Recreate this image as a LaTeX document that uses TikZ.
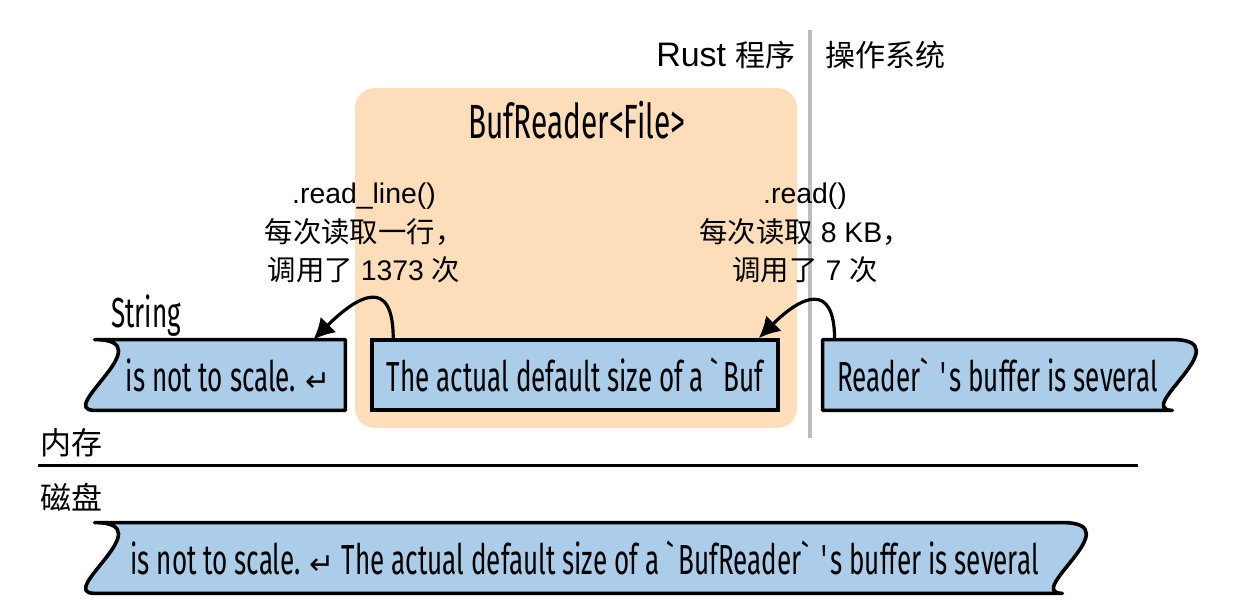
\documentclass[tikz,border=0pt]{standalone}
\usepackage{fontspec}
\setmainfont{Fira Sans}[FakeStretch=0.62]
\newfontfamily\cjk{Noto Sans CJK SC}
\newfontfamily\notef{Liberation Sans}
\newfontfamily\symf{DejaVu Sans}
\newcommand{\zh}[1]{{\cjk #1}}
\usetikzlibrary{arrows.meta,backgrounds}

\definecolor{bufpeach}{RGB}{253,221,186}
\definecolor{tapeblue}{RGB}{171,205,233}
\definecolor{divgray}{RGB}{190,190,190}

\tikzset{
    tape/.style={fill=tapeblue, draw=black, line width=1.8pt, line join=round},
    tapenode/.style={minimum height=35pt, inner sep=0pt, font=\fontsize{21}{25}\selectfont},
    fetch/.style={-{Latex[length=10.5pt,width=11pt]}, line width=1.6pt},
    callnote/.style={align=center, inner sep=0pt, font=\notef\fontsize{14.2}{19.2}\selectfont}
}

\begin{document}
\begin{tikzpicture}[x=0.5pt, y=0.5pt]
    \useasboundingbox (0,0) rectangle (1258,614);

    % Rust program side
    \begin{scope}[on background layer]
        \fill[bufpeach, rounded corners=10pt] (355,186) rectangle (797,526);
    \end{scope}
    \draw[divgray, line width=1.6pt] (810,584) -- (810,176);
    \node (rust) [anchor=east, inner sep=0pt, font=\notef\fontsize{17}{20}\selectfont] at (796,559) {Rust \zh{\fontsize{15}{18}\selectfont 程序}};
    \node (os) [anchor=west, inner sep=0pt] at (825,559) {\cjk\fontsize{15}{18}\selectfont 操作系统};
    \node (bufname) [font=\fontsize{24}{26}\selectfont] at (577,494) {BufReader<File>};

    % Call notes
    \node (readline) [callnote] at (364,381) {.read\_line()\\\zh{每次读取一行，}\\\zh{调用了} 1373 \zh{次}};
    \node (read) [callnote] at (805,381) {.read()\\\zh{每次读取} 8 KB\zh{，}\\\zh{调用了} 7 \zh{次}};

    % Memory tapes
    \node (strlabel) [anchor=west, font=\fontsize{21}{24}\selectfont] at (104,298) {String};
    \node (linebuf) [tapenode, minimum width=125pt] at (220,239) {\hspace{8pt}is not to scale. {\symf\fontsize{15}{20}\selectfont ↵}};
    \node (bufdata) [tapenode, minimum width=203pt, draw, line width=1.8pt, fill=tapeblue] at (575,239) {The actual default size of a \textasciigrave Buf};
    \node (osdata) [tapenode, minimum width=174.5pt] at (997.5,239) {Reader\textasciigrave\ \textquotesingle s buffer is several};

    % Memory / disk split
    \node (mem) [anchor=west, inner sep=0pt] at (40,171) {\cjk\fontsize{15.5}{18}\selectfont 内存};
    \draw[line width=1.5pt] (38,148) -- (1138,148);
    \node (disk) [anchor=west, inner sep=0pt] at (40,117) {\cjk\fontsize{15.5}{18}\selectfont 磁盘};
    \node (diskdata) [tapenode, minimum width=483.5pt] at (578.5,56) {\hspace{6pt}is not to scale. {\symf\fontsize{15}{20}\selectfont ↵} The actual default size of a \textasciigrave BufReader\textasciigrave\ \textquotesingle s buffer is several};

    % Tape outlines
    \begin{scope}[on background layer]
        \draw[tape] (linebuf.north east) -- (linebuf.south east) -- (linebuf.south west)
            .. controls +(-40,0) and +(70,0) .. (linebuf.north west) -- cycle;
        \draw[tape] (osdata.north west) -- (osdata.north east)
            .. controls +(70,0) and +(-40,0) .. (osdata.south east) -- (osdata.south west) -- cycle;
        \draw[tape] (diskdata.north west) -- (diskdata.north east)
            .. controls +(70,0) and +(-40,0) .. (diskdata.south east) -- (diskdata.south west)
            .. controls +(-40,0) and +(70,0) .. (diskdata.north west) -- cycle;
    \end{scope}

    % Arrows
    \draw[fetch] ([xshift=11.5pt]bufdata.north west) to[out=90, in=45, looseness=2] ([xshift=-16pt]linebuf.north east);
    \draw[fetch] ([xshift=6pt]osdata.north west) to[out=90, in=45, looseness=2] ([xshift=-10.5pt]bufdata.north east);
\end{tikzpicture}
\end{document}
